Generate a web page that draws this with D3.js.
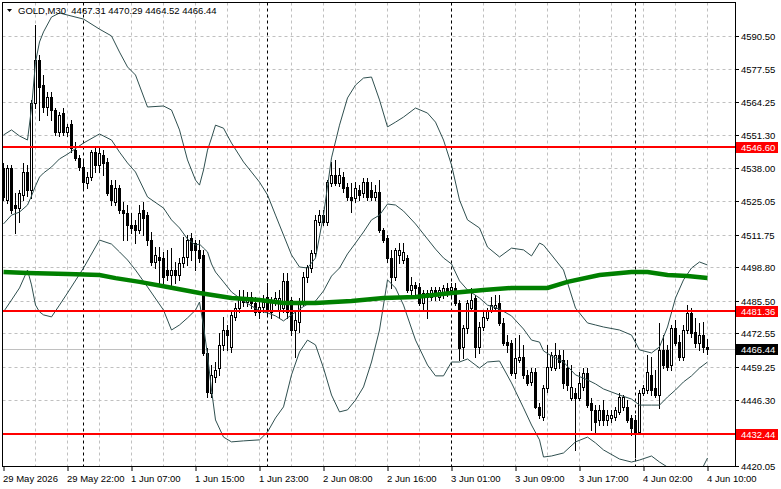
<!DOCTYPE html>
<html lang="en">
<head>
<meta charset="utf-8">
<title>GOLD M30</title>
<script src="https://cdnjs.cloudflare.com/ajax/libs/d3/7.8.5/d3.min.js"></script>
<style type="text/css">
  body { margin: 0; background: #fff; }
  svg { display: block; font-family: "Liberation Sans", Arial, sans-serif; }
  .axis path.domain { display: none; }
  .axis text { font-size: 9.5px; fill: #000; }
  .axis line { stroke: #000; }
</style>
</head>
<body>
<div id="chart"></div>
<script type="text/javascript">

const width = 781;
const height = 489;
const plot = {left: 2.5, right: 735.5, top: 2.5, bottom: 466.5};

// title line
const symbol = "GOLD,M30";
const lastOHLC = ["4467.31", "4470.29", "4464.52", "4466.44"];

// price axis labels (right side)
const priceTicks = [4590.50, 4577.55, 4564.25, 4551.30, 4538.00, 4525.05, 4511.75,
                    4498.80, 4485.50, 4472.55, 4459.25, 4446.30, 4433.00, 4420.05];

// time axis labels, one every 16 bars
const timeLabels = ["29 May 2026", "29 May 22:00", "1 Jun 07:00", "1 Jun 15:00", "1 Jun 23:00",
                    "2 Jun 08:00", "2 Jun 16:00", "3 Jun 01:00", "3 Jun 09:00", "3 Jun 17:00",
                    "4 Jun 02:00", "4 Jun 10:00"];
const timeLabelBars = [0, 16, 32, 48, 64, 80, 96, 112, 128, 144, 160, 176];

// day separators (first bar of each new day)
const daySeparators = [20, 66, 112, 158];

// horizontal levels
const redLevels = [4546.60, 4481.36, 4432.44];
const currentPrice = 4466.44;

// M30 candles
const open = [
  4538.2, 4525.5, 4538.2, 4523.5, 4522.3, 4527.5, 4536.6, 4529.5, 4564.0, 4581.0,
  4571.1, 4562.4, 4566.4, 4561.2, 4552.5, 4560.0, 4552.5, 4555.6, 4545.3, 4542.2,
  4538.6, 4532.2, 4534.6, 4544.5, 4539.4, 4543.3, 4540.6, 4531.4, 4524.7, 4530.3,
  4521.5, 4520.3, 4515.6, 4515.6, 4513.6, 4521.5, 4519.5, 4509.6, 4500.9, 4502.9,
  4502.5, 4497.7, 4495.7, 4497.7, 4495.7, 4500.5, 4502.9, 4510.4, 4508.4, 4505.7,
  4503.7, 4464.8, 4448.9, 4455.3, 4458.8, 4468.0, 4473.9, 4467.2, 4479.1, 4482.6,
  4487.0, 4485.0, 4487.0, 4484.6, 4481.1, 4483.0, 4487.0, 4481.1, 4485.0, 4481.8,
  4482.6, 4493.4, 4485.8, 4473.9, 4477.1, 4485.0, 4494.9, 4498.5, 4504.5, 4516.8,
  4519.5, 4516.8, 4532.2, 4535.4, 4532.2, 4534.6, 4530.6, 4526.7, 4526.3, 4529.5,
  4528.3, 4532.6, 4529.5, 4526.7, 4528.7, 4513.6, 4510.4, 4502.5, 4494.9, 4503.7,
  4501.7, 4502.5, 4489.8, 4491.8, 4491.0, 4484.6, 4488.6, 4487.0, 4489.8, 4487.0,
  4488.6, 4490.6, 4489.8, 4490.6, 4484.6, 4467.2, 4474.7, 4482.6, 4486.6, 4467.2,
  4475.1, 4478.7, 4481.8, 4482.6, 4484.6, 4476.7, 4469.1, 4468.8, 4456.8, 4462.0,
  4463.2, 4456.1, 4453.3, 4457.2, 4443.4, 4439.4, 4450.9, 4459.2, 4458.8, 4464.0,
  4462.0, 4458.8, 4446.9, 4448.9, 4446.9, 4451.3, 4456.8, 4444.9, 4442.2, 4438.2,
  4442.2, 4438.2, 4439.0, 4439.4, 4441.4, 4443.4, 4443.4, 4439.0, 4438.2, 4433.4,
  4448.9, 4450.1, 4456.1, 4450.9, 4448.1, 4466.0, 4466.0, 4460.0, 4474.7, 4469.1,
  4463.2, 4473.9, 4480.7, 4473.1, 4468.8, 4471.9, 4467.31];
const high = [
  4540.2, 4539.4, 4539.4, 4528.3, 4529.5, 4540.2, 4539.4, 4565.2, 4594.9, 4583.0,
  4575.1, 4568.3, 4568.3, 4562.0, 4560.4, 4562.0, 4555.6, 4557.2, 4548.5, 4543.3,
  4541.4, 4536.6, 4545.3, 4546.1, 4546.1, 4545.3, 4542.2, 4533.4, 4533.4, 4531.4,
  4524.7, 4523.5, 4520.3, 4517.6, 4523.5, 4524.7, 4520.7, 4512.8, 4506.8, 4506.8,
  4504.9, 4505.7, 4506.4, 4500.9, 4502.5, 4510.8, 4511.6, 4512.4, 4509.6, 4509.6,
  4505.7, 4466.8, 4460.0, 4461.2, 4472.7, 4479.1, 4475.9, 4481.8, 4484.6, 4489.8,
  4489.8, 4489.0, 4489.0, 4487.0, 4485.8, 4487.8, 4492.6, 4487.0, 4489.0, 4489.8,
  4496.5, 4496.5, 4487.0, 4481.8, 4486.6, 4496.9, 4499.7, 4505.7, 4519.5, 4521.5,
  4521.5, 4533.4, 4540.6, 4541.4, 4538.2, 4536.6, 4532.2, 4532.2, 4532.6, 4531.4,
  4534.2, 4534.2, 4532.6, 4531.4, 4533.4, 4514.4, 4511.6, 4505.7, 4506.4, 4508.4,
  4508.4, 4503.7, 4494.9, 4493.0, 4492.6, 4489.8, 4489.8, 4491.0, 4491.0, 4491.0,
  4491.8, 4492.6, 4492.6, 4492.6, 4485.8, 4475.9, 4485.8, 4490.6, 4487.8, 4477.1,
  4481.1, 4482.6, 4487.0, 4487.8, 4487.8, 4478.7, 4471.9, 4469.9, 4470.7, 4471.9,
  4468.0, 4458.0, 4458.8, 4458.8, 4444.9, 4452.1, 4468.0, 4465.2, 4468.8, 4466.0,
  4466.0, 4462.0, 4460.0, 4450.9, 4457.2, 4458.8, 4458.8, 4446.9, 4444.2, 4444.2,
  4446.1, 4442.2, 4442.2, 4443.4, 4448.9, 4448.1, 4446.1, 4440.2, 4440.2, 4450.1,
  4452.1, 4464.0, 4463.2, 4458.0, 4476.7, 4471.9, 4468.0, 4475.9, 4477.9, 4471.9,
  4475.9, 4483.8, 4482.6, 4478.7, 4476.7, 4477.1, 4470.29];
const low = [
  4525.5, 4524.3, 4520.3, 4512.4, 4516.8, 4525.5, 4527.1, 4526.3, 4562.0, 4557.2,
  4560.4, 4559.2, 4557.2, 4551.3, 4550.9, 4551.3, 4550.9, 4544.5, 4541.4, 4537.4,
  4530.3, 4530.3, 4533.4, 4536.6, 4536.6, 4535.4, 4527.5, 4523.5, 4523.5, 4520.3,
  4509.6, 4509.6, 4512.4, 4508.4, 4512.4, 4511.6, 4507.6, 4499.7, 4498.5, 4492.6,
  4491.8, 4493.8, 4490.6, 4492.6, 4493.8, 4498.9, 4499.7, 4501.7, 4497.7, 4500.9,
  4464.0, 4447.3, 4447.3, 4453.3, 4456.1, 4466.0, 4466.0, 4465.2, 4477.9, 4481.1,
  4483.4, 4483.4, 4482.6, 4479.9, 4478.7, 4481.1, 4479.9, 4478.7, 4483.8, 4478.7,
  4481.1, 4478.7, 4471.9, 4463.2, 4473.1, 4483.8, 4493.0, 4496.9, 4503.3, 4515.6,
  4515.6, 4515.6, 4531.1, 4531.4, 4531.1, 4528.7, 4525.5, 4520.7, 4524.7, 4525.5,
  4526.7, 4525.5, 4525.5, 4525.5, 4512.8, 4508.8, 4500.9, 4490.6, 4493.8, 4500.5,
  4500.5, 4489.0, 4486.6, 4486.6, 4483.8, 4481.8, 4478.7, 4485.8, 4485.8, 4485.8,
  4486.6, 4487.4, 4486.6, 4483.8, 4462.0, 4462.8, 4472.7, 4481.8, 4463.2, 4464.8,
  4473.9, 4477.9, 4481.1, 4481.8, 4475.9, 4468.0, 4465.2, 4456.1, 4454.9, 4461.2,
  4454.9, 4452.1, 4452.1, 4443.0, 4439.0, 4438.2, 4449.3, 4458.0, 4458.0, 4458.8,
  4450.9, 4450.1, 4446.1, 4426.3, 4446.1, 4450.1, 4443.4, 4434.2, 4433.4, 4436.2,
  4436.2, 4436.2, 4437.4, 4438.2, 4440.6, 4442.2, 4437.4, 4432.2, 4423.5, 4432.6,
  4448.1, 4448.9, 4448.1, 4447.3, 4443.0, 4458.8, 4458.0, 4458.0, 4468.0, 4462.0,
  4462.0, 4472.7, 4471.1, 4467.2, 4466.0, 4465.2, 4464.52];
const close = [
  4526.7, 4538.2, 4521.5, 4522.3, 4528.3, 4536.6, 4529.5, 4564.0, 4581.0, 4570.3,
  4562.4, 4566.4, 4561.2, 4552.5, 4559.2, 4552.5, 4554.5, 4546.1, 4542.2, 4538.6,
  4532.6, 4534.6, 4544.5, 4539.4, 4544.1, 4540.2, 4528.3, 4525.5, 4530.3, 4521.5,
  4520.3, 4515.6, 4514.4, 4513.6, 4520.3, 4518.3, 4509.6, 4500.9, 4503.7, 4501.7,
  4494.9, 4495.7, 4497.7, 4495.7, 4500.5, 4502.9, 4509.6, 4505.7, 4505.7, 4502.5,
  4464.8, 4449.3, 4456.1, 4458.0, 4468.0, 4473.9, 4471.9, 4479.9, 4482.6, 4487.0,
  4485.0, 4487.0, 4484.6, 4481.1, 4483.0, 4485.0, 4481.8, 4485.8, 4486.6, 4486.6,
  4493.4, 4481.1, 4473.9, 4477.9, 4485.0, 4494.9, 4498.9, 4504.5, 4517.6, 4519.5,
  4516.8, 4532.6, 4535.4, 4532.2, 4535.4, 4530.3, 4526.7, 4525.5, 4530.3, 4527.5,
  4532.6, 4526.7, 4526.7, 4528.7, 4513.6, 4509.6, 4502.5, 4494.9, 4505.7, 4505.7,
  4504.9, 4489.8, 4491.8, 4490.6, 4484.6, 4488.6, 4487.0, 4489.8, 4487.8, 4489.8,
  4490.6, 4489.0, 4491.0, 4484.6, 4466.8, 4474.7, 4484.6, 4485.8, 4467.2, 4475.1,
  4479.1, 4481.8, 4483.8, 4483.8, 4476.7, 4468.8, 4468.0, 4456.8, 4462.8, 4463.2,
  4456.1, 4452.9, 4457.2, 4443.4, 4440.2, 4450.9, 4459.2, 4464.0, 4464.0, 4461.2,
  4452.9, 4452.1, 4451.3, 4446.9, 4452.9, 4456.8, 4444.2, 4442.2, 4437.4, 4442.2,
  4438.2, 4440.2, 4440.2, 4442.2, 4447.3, 4447.3, 4438.2, 4435.0, 4433.4, 4448.9,
  4450.9, 4457.2, 4450.1, 4448.1, 4466.0, 4460.0, 4459.2, 4474.7, 4468.8, 4463.2,
  4473.9, 4480.7, 4472.7, 4468.8, 4471.9, 4467.2, 4466.44];

// Bollinger bands at these bars
const bandBars = [0, 2, 4, 6, 7, 8, 9, 10, 12, 14, 16, 20, 24, 27, 29, 31, 33, 36, 40, 42,
  44, 46, 48, 49, 50, 51, 52, 53, 55, 57, 60, 64, 66, 68, 70, 72, 74, 76, 78, 80,
  82, 84, 86, 88, 90, 92, 94, 96, 98, 100, 103, 106, 108, 110, 112, 114, 116, 119, 121, 124,
  127, 130, 132, 134, 135, 137, 140, 143, 146, 148, 150, 154, 157, 159, 162, 164, 166, 168, 170, 172,
  174, 176];
const bandUpper = [4551.3, 4553.3, 4550.9, 4549.3, 4562.0, 4580.2, 4588.2, 4592.2, 4598.1, 4599.7,
  4598.9, 4597.3, 4593.3, 4590.6, 4584.2, 4578.3, 4575.1, 4562.4, 4562.8, 4561.2,
  4553.3, 4541.4, 4533.4, 4531.4, 4537.4, 4545.3, 4550.1, 4555.2, 4554.0, 4548.1,
  4540.6, 4532.6, 4527.5, 4519.5, 4511.6, 4503.7, 4498.9, 4498.5, 4502.5, 4519.5,
  4542.2, 4555.2, 4566.0, 4571.1, 4573.9, 4574.3, 4565.2, 4554.5, 4556.4, 4558.4,
  4562.0, 4560.0, 4556.4, 4549.3, 4539.4, 4525.5, 4517.6, 4514.4, 4506.8, 4502.9,
  4506.4, 4505.7, 4503.3, 4508.4, 4507.6, 4503.7, 4497.7, 4482.6, 4476.7, 4475.9,
  4475.1, 4473.9, 4471.9, 4466.0, 4464.8, 4467.2, 4475.1, 4486.6, 4493.8, 4498.5,
  4500.9, 4499.7];
const bandMiddle = [4516.0, 4519.5, 4520.7, 4523.5, 4527.1, 4531.1, 4534.6, 4536.2, 4538.6, 4541.8,
  4543.7, 4548.1, 4551.7, 4549.3, 4544.5, 4540.2, 4536.6, 4526.7, 4522.3, 4517.6,
  4514.4, 4510.0, 4507.6, 4508.0, 4506.4, 4504.9, 4500.1, 4496.9, 4493.0, 4489.0,
  4485.4, 4481.5, 4480.7, 4479.5, 4477.5, 4479.9, 4482.2, 4484.2, 4485.4, 4489.4,
  4495.3, 4498.5, 4504.1, 4508.4, 4512.8, 4517.6, 4519.5, 4523.9, 4523.5, 4521.1,
  4516.0, 4510.0, 4506.0, 4502.5, 4500.1, 4493.4, 4489.8, 4486.6, 4483.8, 4482.2,
  4479.5, 4474.3, 4469.9, 4469.1, 4465.6, 4463.6, 4461.2, 4456.1, 4454.1, 4452.5,
  4450.5, 4448.1, 4446.5, 4444.1, 4444.1, 4444.1, 4447.3, 4450.1, 4453.3, 4455.7,
  4458.8, 4461.2];
const bandLower = [4481.1, 4485.8, 4490.6, 4497.7, 4491.8, 4483.8, 4481.1, 4479.9, 4479.1, 4483.8,
  4488.6, 4498.5, 4509.6, 4508.0, 4504.9, 4501.7, 4497.7, 4491.0, 4481.8, 4473.9,
  4475.9, 4478.7, 4481.8, 4485.0, 4475.5, 4464.0, 4450.1, 4438.2, 4431.4, 4429.5,
  4429.9, 4430.3, 4433.4, 4439.0, 4443.4, 4456.1, 4465.2, 4469.9, 4468.0, 4458.8,
  4448.1, 4441.4, 4442.2, 4446.1, 4451.3, 4461.2, 4473.9, 4493.8, 4490.6, 4483.8,
  4469.9, 4460.0, 4455.7, 4455.7, 4461.2, 4461.2, 4462.4, 4458.8, 4461.2, 4461.6,
  4452.9, 4443.0, 4436.2, 4430.3, 4423.5, 4423.9, 4425.1, 4429.5, 4431.4, 4429.1,
  4426.3, 4422.7, 4421.5, 4422.3, 4423.9, 4421.5, 4419.5, 4413.6, 4412.8, 4412.8,
  4416.8, 4423.1];

// slow moving average (green)
const maBars = [0, 6, 16, 24, 28, 34, 41, 49, 57, 64, 70, 78, 87, 95, 103, 112, 120, 127, 136, 141,
  149, 157, 161, 166, 171, 176];
const maValues = [4496.9, 4496.5, 4496.1, 4495.7, 4494.5, 4493.0, 4491.0, 4488.6, 4486.6, 4485.8,
  4484.6, 4484.6, 4485.4, 4486.6, 4487.0, 4488.6, 4489.8, 4490.6, 4490.6, 4493.0,
  4495.7, 4496.9, 4496.9, 4495.7, 4495.3, 4494.5];

// scales: 4 px per bar, 183 bar slots across the plot
const x = d3.scaleLinear().domain([0, 183]).range([3.5, 735.5]);
const y = d3.scaleLinear().domain([4420.05, 4590.50]).range([465.7, 36.2]);
const py = v => Math.round(y(v));

const svg = d3.select("#chart")
    .append("svg")
    .attr("width", width)
    .attr("height", height);

svg.append("rect").attr("width", width).attr("height", height).attr("fill", "#fff");

svg.append("defs").append("clipPath").attr("id", "plotclip")
  .append("rect")
    .attr("x", plot.left).attr("y", plot.top)
    .attr("width", plot.right - plot.left).attr("height", plot.bottom - plot.top);

// grid
const grid = svg.append("g").attr("class", "grid");
grid.selectAll("line.h")
  .data(priceTicks)
  .enter().append("line")
    .attr("class", "h")
    .attr("x1", plot.left).attr("x2", plot.right)
    .attr("y1", d => py(d) + 0.5).attr("y2", d => py(d) + 0.5)
    .attr("stroke", "#c0c0c0")
    .attr("stroke-dasharray", "3,3");

grid.selectAll("line.v")
  .data(d3.range(8, 184, 8))
  .enter().append("line")
    .attr("class", "v")
    .attr("x1", d => x(d)).attr("x2", d => x(d))
    .attr("y1", plot.top).attr("y2", plot.bottom)
    .attr("stroke", "#c0c0c0")
    .attr("stroke-dasharray", "3,3");

grid.selectAll("line.sep")
  .data(daySeparators)
  .enter().append("line")
    .attr("class", "sep")
    .attr("x1", d => x(d)).attr("x2", d => x(d))
    .attr("y1", plot.top).attr("y2", plot.bottom)
    .attr("stroke", "#000")
    .attr("stroke-dasharray", "3,3");

// current price line
grid.append("line")
    .attr("x1", plot.left).attr("x2", plot.right)
    .attr("y1", py(currentPrice) + 0.5).attr("y2", py(currentPrice) + 0.5)
    .attr("stroke", "#c0c0c0");

const chartGroup = svg.append("g").attr("clip-path", "url(#plotclip)");

// candles
const bars = d3.range(open.length);
const candles = chartGroup.append("g").attr("class", "candles");

candles.selectAll("rect.wick")
  .data(bars)
  .enter().append("rect")
    .attr("class", "wick")
    .attr("x", i => x(i) - 0.5)
    .attr("y", i => py(high[i]))
    .attr("width", 1)
    .attr("height", i => py(low[i]) - py(high[i]) + 1)
    .attr("fill", "#000");

candles.selectAll("rect.bear")
  .data(bars.filter(i => close[i] < open[i]))
  .enter().append("rect")
    .attr("class", "bear")
    .attr("x", i => x(i) - 1.5)
    .attr("y", i => py(open[i]))
    .attr("width", 3)
    .attr("height", i => py(close[i]) - py(open[i]) + 1)
    .attr("fill", "#000");

candles.selectAll("rect.bull")
  .data(bars.filter(i => close[i] >= open[i]))
  .enter().append("rect")
    .attr("class", "bull")
    .attr("x", i => x(i) - 1)
    .attr("y", i => py(close[i]) + 0.5)
    .attr("width", 2)
    .attr("height", i => Math.max(py(open[i]) - py(close[i]), 0))
    .attr("fill", "#fff")
    .attr("stroke", "#000")
    .attr("stroke-width", 1);

// bollinger bands
const bandLine = d3.line()
    .x((d, i) => x(bandBars[i]))
    .y(d => y(d));

[bandUpper, bandMiddle, bandLower].forEach(band => {
  chartGroup.append("path")
      .datum(band)
      .attr("d", bandLine)
      .attr("fill", "none")
      .attr("stroke", "#2f4f4f")
      .attr("stroke-width", 1);
});

// moving average
chartGroup.append("path")
    .datum(maValues)
    .attr("d", d3.line().x((d, i) => x(maBars[i])).y(d => y(d)))
    .attr("fill", "none")
    .attr("stroke", "#008000")
    .attr("stroke-width", 4.5);

// red levels
chartGroup.selectAll("line.level")
  .data(redLevels)
  .enter().append("line")
    .attr("class", "level")
    .attr("x1", plot.left).attr("x2", plot.right)
    .attr("y1", d => py(d)).attr("y2", d => py(d))
    .attr("stroke", "#ff0000")
    .attr("stroke-width", 2);

// frame
svg.append("rect")
    .attr("x", plot.left).attr("y", plot.top)
    .attr("width", plot.right - plot.left).attr("height", plot.bottom - plot.top)
    .attr("fill", "none")
    .attr("stroke", "#000");

// price axis
const yAxis = d3.axisRight(y)
    .tickValues(priceTicks)
    .tickFormat(d => d.toFixed(2))
    .tickSize(4)
    .tickSizeOuter(0)
    .tickPadding(2);

svg.append("g")
    .attr("class", "axis y")
    .attr("transform", "translate(" + (plot.right - 0.5) + ",0)")
    .call(yAxis)
    .call(g => g.selectAll(".tick").attr("transform", d => "translate(0," + (py(d) + 0.5) + ")"))
    .call(g => g.selectAll(".tick text").attr("dy", "0.34em"));

// time axis
const xAxis = d3.axisBottom(x)
    .tickValues(timeLabelBars)
    .tickFormat((d, i) => timeLabels[i])
    .tickSize(4)
    .tickSizeOuter(0)
    .tickPadding(4);

svg.append("g")
    .attr("class", "axis x")
    .attr("transform", "translate(0," + (plot.bottom + 0.5) + ")")
    .call(xAxis)
    .call(g => g.selectAll(".tick text").attr("text-anchor", "start").attr("x", -1));

// price boxes on the axis
const boxes = redLevels.map(v => ({v: v, bg: "#ff0000"}))
    .concat([{v: currentPrice, bg: "#000"}]);

const boxGroup = svg.append("g").attr("class", "price-boxes");
boxGroup.selectAll("rect")
  .data(boxes)
  .enter().append("rect")
    .attr("x", 736)
    .attr("y", d => py(d.v) - 5)
    .attr("width", 42)
    .attr("height", 11)
    .attr("fill", d => d.bg);

boxGroup.selectAll("text")
  .data(boxes)
  .enter().append("text")
    .attr("x", 741)
    .attr("y", d => py(d.v) + 4)
    .attr("font-size", "9.5px")
    .attr("fill", "#fff")
    .text(d => d.v.toFixed(2));

// title
svg.append("path")
    .attr("d", "M7,9 L12,9 L9.5,12 Z")
    .attr("fill", "#000");

svg.append("text")
    .attr("x", 18)
    .attr("y", 14)
    .attr("font-size", "9.5px")
    .style("white-space", "pre")
    .text(symbol + "  " + lastOHLC.join(" "));

</script>
</body>
</html>
